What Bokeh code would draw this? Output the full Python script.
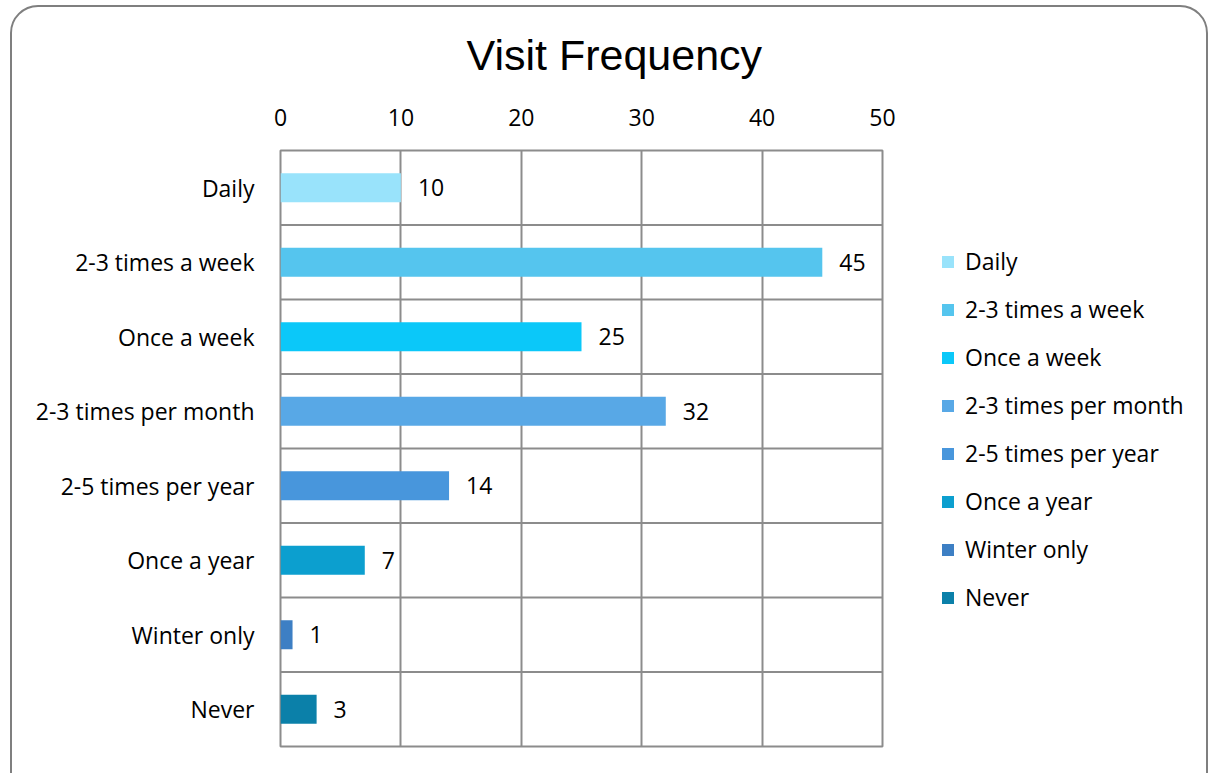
from bokeh.plotting import figure
from bokeh.models import (ColumnDataSource, FactorRange, Range1d, LabelSet, Title,
                          Span, FixedTicker, InlineStyleSheet)
from bokeh.embed import file_html
from bokeh.resources import INLINE
from bokeh.core.properties import value

# ---- data ----
categories = ["Daily", "2-3 times a week", "Once a week", "2-3 times per month",
              "2-5 times per year", "Once a year", "Winter only", "Never"]
counts = [10, 45, 25, 32, 14, 7, 1, 3]
bar_colors = ["#99E3FB", "#55C5EE", "#0BC8F9", "#58A8E6",
              "#4896DC", "#0C9FCF", "#3D7FC4", "#0B80A9"]
x_ticks = [0, 10, 20, 30, 40, 50]
title_text = "Visit Frequency"

FONT = "Open Sans"
FS = "23px"
GRID = "#8C8C8C"

src = ColumnDataSource(dict(cat=categories, count=counts, color=bar_colors,
                            label=[str(c) for c in counts]))

p = figure(frame_width=602, frame_height=596, output_backend="svg", toolbar_location=None,
           y_range=FactorRange(factors=categories[::-1]),
           x_range=Range1d(0, 50), x_axis_location="above",
           min_border_left=280, min_border_right=0, min_border_top=150,
           min_border_bottom=27)
p.background_fill_color = "white"
p.border_fill_color = "white"
p.outline_line_color = GRID
p.outline_line_width = 2

p.hbar(y="cat", left=0, right="count", height=0.39, fill_color="color",
       line_color=None, legend_field="cat", source=src)

labels = LabelSet(x="count", y="cat", text="label", x_offset=17,
                  text_baseline="middle", text_font=value(FONT),
                  text_font_size=FS, text_color="black", source=src)
p.add_layout(labels)

# grid
p.ygrid.grid_line_color = None
p.xgrid.grid_line_color = GRID
p.xgrid.grid_line_width = 2
p.xgrid.grid_line_alpha = 1
p.xaxis.ticker = FixedTicker(ticks=x_ticks)
for k in range(1, len(categories)):
    p.add_layout(Span(location=k, dimension="width", line_color=GRID, line_width=2))

for ax in (p.xaxis[0], p.yaxis[0]):
    ax.axis_line_color = None
    ax.major_tick_line_color = None
    ax.minor_tick_line_color = None
    ax.major_label_text_font = FONT
    ax.major_label_text_font_size = FS
    ax.major_label_text_color = "black"
p.xaxis.major_label_standoff = 19
p.yaxis.major_label_standoff = 20

# legend in the right panel
lg = p.legend[0]
p.center.remove(lg)
lg.location = "top_left"
lg.title = " "
lg.title_text_font_size = "22px"
lg.title_standoff = 11
lg.border_line_color = None
lg.background_fill_alpha = 0
lg.label_text_font = FONT
lg.label_text_font_size = FS
lg.label_text_color = "black"
lg.glyph_width = 15
lg.glyph_height = 15
lg.label_height = 32
lg.spacing = 16
lg.padding = 0
lg.margin = 58
lg.label_standoff = 10
p.add_layout(lg, "right")

# title
p.title = Title(text=title_text, align="left", offset=186, standoff=54,
                text_font="Liberation Sans", text_font_size="43px",
                text_font_style="normal", text_color="black")

# rounded frame around the whole chart
p.stylesheets = [InlineStyleSheet(css="""
:host::after {
  content: "";
  position: absolute;
  left: 10px; top: 5px;
  width: 1194px; height: 820px;
  border: 2px solid #7F7F7F;
  border-radius: 28px;
  pointer-events: none;
  z-index: 10;
}
""")]

open("out.html", "w").write(file_html(p, INLINE))
